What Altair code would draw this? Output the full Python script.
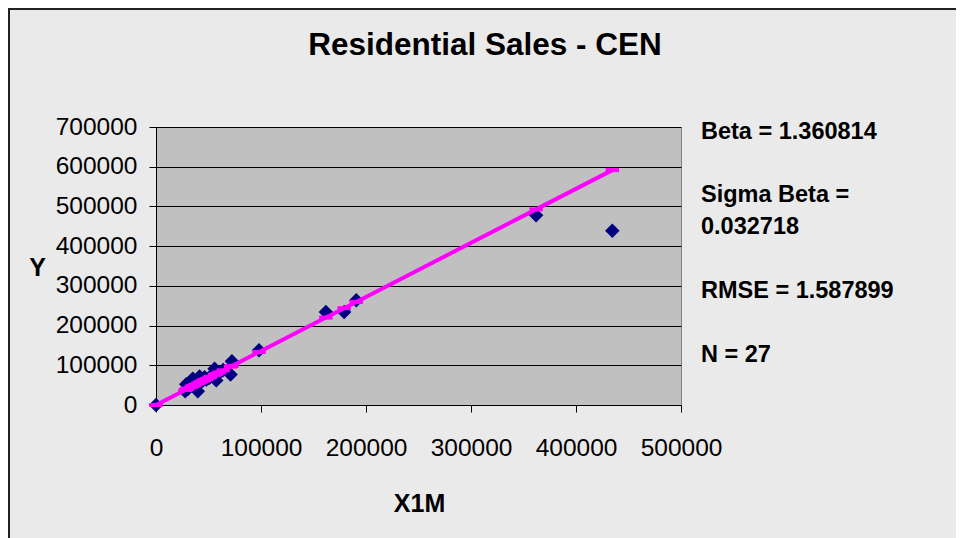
import altair as alt
import pandas as pd

# ---- data ----
x1m = [0, 27800, 28800, 30500, 33600, 35100, 37000, 39800, 41500, 43000,
       45000, 46200, 48000, 50500, 52000, 55800, 57400, 60000, 64000, 71000,
       72300, 98100, 161800, 179200, 190700, 362000, 434600]
y_vals = [0, 34700, 52000, 41000, 62000, 66000, 50000, 34700, 72000, 58000,
          62000, 70000, 64000, 68000, 72000, 91000, 62000, 80000, 88000, 77000,
          110000, 138000, 234000, 234000, 264000, 478000, 439000]
beta = 1.360814
title_text = "Residential Sales - CEN"
stats_lines = ["Beta = 1.360814", "Sigma Beta =", "0.032718",
               "RMSE = 1.587899", "N = 27"]
x_ticks = [0, 100000, 200000, 300000, 400000, 500000]
y_ticks = [0, 100000, 200000, 300000, 400000, 500000, 600000, 700000]

df = pd.DataFrame({"X1M": x1m, "Y": y_vals})

FONT = "Liberation Sans"
W, H = 525, 278
PAD = {"left": 148, "top": 119, "right": 275, "bottom": 133}

x_axis = alt.Axis(values=x_ticks, format="d", title="X1M", grid=False,
                  titleX=263, titleY=98, titleAlign="center",
                  titleBaseline="middle", labelPadding=24, tickSize=7,
                  labelFlush=False, labelOverlap=False)
y_axis = alt.Axis(values=y_ticks, format="d", title="Y", grid=True,
                  titleAngle=0, titleX=-119, titleY=140, titleAlign="center",
                  titleBaseline="middle", labelPadding=12, tickSize=7,
                  labelFlush=False, labelOverlap=False)
x_scale = alt.Scale(domain=[0, 500000], nice=False, zero=True)
y_scale = alt.Scale(domain=[0, 700000], nice=False, zero=True)

base = alt.Chart(df)

points = base.mark_point(shape="diamond", filled=True, size=210,
                         color="#000080", opacity=1).encode(
    x=alt.X("X1M:Q", scale=x_scale, axis=x_axis),
    y=alt.Y("Y:Q", scale=y_scale, axis=y_axis),
)

fitted = base.transform_calculate(fit=f"{beta} * datum.X1M")

line = fitted.mark_line(color="#FF00FF", strokeWidth=4).encode(
    x=alt.X("X1M:Q", scale=x_scale, axis=x_axis),
    y=alt.Y("fit:Q", scale=y_scale, axis=y_axis),
    order="X1M:Q",
)

dashes = fitted.mark_point(shape="M-1,-0.3L1,-0.3L1,0.3L-1,0.3Z", filled=True,
                           size=180, color="#FF00FF", opacity=1).encode(
    x=alt.X("X1M:Q", scale=x_scale, axis=x_axis),
    y=alt.Y("fit:Q", scale=y_scale, axis=y_axis),
)

one = pd.DataFrame({"k": [0]})

title = alt.Chart(one).mark_text(font=FONT, fontSize=31.5, fontWeight="bold",
                                 align="center", baseline="alphabetic",
                                 color="black").encode(
    x=alt.value(329), y=alt.value(-72), text=alt.value(title_text))

stat_y = [12, 75, 107, 171, 235]
stats = [
    alt.Chart(one).mark_text(font=FONT, fontSize=23.5, fontWeight="bold",
                             align="left", baseline="alphabetic",
                             color="black").encode(
        x=alt.value(545), y=alt.value(yy), text=alt.value(t))
    for t, yy in zip(stats_lines, stat_y)
]

border_top = alt.Chart(one).mark_rule(color="#222222", strokeWidth=2).encode(
    x=alt.value(-PAD["left"]), x2=alt.value(W + PAD["right"]),
    y=alt.value(-PAD["top"] + 1))
border_left = alt.Chart(one).mark_rule(color="#222222", strokeWidth=2).encode(
    x=alt.value(-PAD["left"] + 1), y=alt.value(-PAD["top"]),
    y2=alt.value(H + PAD["bottom"]))

chart = alt.layer(points, line, dashes, title, *stats, border_top, border_left).properties(
    width=W, height=H,
    autosize=alt.AutoSizeParams(type="none"),
    padding=PAD,
    background="#EAEAEA",
).configure_view(
    fill="#C0C0C0", stroke="#808080", strokeWidth=1,
).configure_axis(
    domainColor="black", tickColor="black", gridColor="black",
    gridWidth=1, domainWidth=1, tickWidth=1,
    labelFont=FONT, labelFontSize=24.5, labelColor="black",
    titleFont=FONT, titleFontSize=25, titleFontWeight="bold", titleColor="black",
)

chart.save("out.html", embed_options={"renderer": "svg", "actions": False})
